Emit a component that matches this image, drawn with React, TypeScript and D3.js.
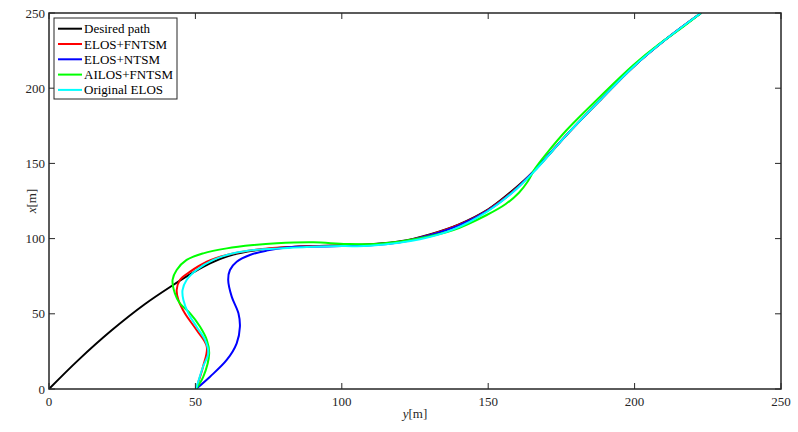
import React from "react";
import * as d3 from "d3";

const xTicks = [0, 50, 100, 150, 200, 250];
const yTicks = [0, 50, 100, 150, 200, 250];

const desiredH = [0, 10, 21.4, 32.8, 41.9, 49.3, 55, 61, 70, 79, 90, 100, 110, 120, 130, 140, 150, 158, 165.4, 176.8, 188.2, 199.6, 211, 222.7];
const desiredV = [0, 19.2, 39, 56.5, 68.5, 77.5, 83.5, 88.3, 92, 94, 95, 95.5, 96.3, 98.2, 102.8, 109.5, 119.5, 131.5, 144.5, 169, 192, 214.3, 233, 250];

const redH = [50.2, 52.6, 53.9, 50.4, 46.4, 44.2, 43.6, 44.7, 48.2, 53.9, 60.7, 69.8, 78.9, 90, 100, 110, 120, 130, 140, 150, 158.3, 165.4, 176.8, 188.2, 199.6, 211, 222.7];
const redV = [0, 14.8, 28.1, 39.2, 50.3, 59.2, 65.8, 72.5, 78, 84.6, 89.1, 92.4, 94.1, 95, 95.4, 96, 97.9, 102.5, 109.2, 119.2, 131.3, 144.5, 169, 192, 214.3, 233, 250];

const blueH = [50.2, 55, 60.7, 64.1, 65.2, 64.7, 62.4, 61.2, 61.8, 64.1, 68.6, 74.3, 81.2, 88, 100, 110, 120, 130, 140, 150, 158.4, 165.4, 176.8, 188.2, 199.6, 211, 222.7];
const blueV = [0, 8.2, 19.3, 30.4, 41.4, 50.3, 61.4, 72.5, 79.1, 84.6, 89.1, 92, 94.1, 94.6, 95, 95.6, 97.6, 102.2, 108.8, 118.8, 131, 144.5, 169, 192, 214.3, 233, 250];

const greenH = [50.2, 52.7, 54.7, 53.9, 51.6, 48.2, 44.7, 43, 42.2, 43.6, 47, 52.7, 60.7, 69.8, 77.8, 90.3, 101.7, 113, 126.7, 138.1, 149.5, 156, 160.5, 163.5, 166, 170, 176.8, 188.2, 199.6, 208.7, 215, 222.7];
const greenV = [0, 8.2, 23.7, 32.6, 41.4, 50.3, 56.9, 63.6, 72.5, 79.1, 85.8, 90.2, 93.5, 95.7, 96.9, 97.5, 96.4, 96.6, 100.2, 105.7, 115.7, 123, 130.5, 138, 146.5, 156.7, 172.2, 194.3, 215.4, 229.8, 238.5, 250];

const cyanH = [50.2, 52.6, 54.4, 53.3, 50.4, 47.6, 45.9, 45.6, 47, 50.4, 56.1, 63, 72.1, 78.9, 88, 100, 109.6, 126.7, 138.1, 149.5, 158.6, 165.4, 176.8, 188.2, 199.6, 211, 222.7];
const cyanV = [0, 14.8, 23.7, 32.6, 41.4, 50.3, 59.2, 65.8, 72.5, 79.1, 85.8, 90.2, 92.8, 93.5, 94.4, 95, 95.2, 99.5, 106.1, 117.8, 131.2, 144, 169, 192, 214.3, 233, 250];

const seriesNames = ["Desired path", "ELOS+FNTSM", "ELOS+NTSM", "AILOS+FNTSM", "Original ELOS"];
const seriesColors = ["#000000", "#ff0000", "#0000ff", "#00ff00", "#00ffff"];

export default function App() {
  const W = 798, H = 432;
  const L = 49, R = 781, T = 13, B = 389;
  const x = d3.scaleLinear().domain([0, 250]).range([L, R]);
  const y = d3.scaleLinear().domain([0, 250]).range([B, T]);
  const line = d3.line<[number, number]>().x(d => x(d[0])).y(d => y(d[1])).curve(d3.curveCatmullRom.alpha(0.5));
  const series = [
    [desiredH, desiredV],
    [redH, redV],
    [blueH, blueV],
    [greenH, greenV],
    [cyanH, cyanV],
  ].map(([hs, vs]) => hs.map((h, i) => [h, vs[i]] as [number, number]));
  const fontStyle = { fontFamily: "'Liberation Serif', 'Times New Roman', Times, serif" };
  const tick = 6;
  const axisColor = "#262626";
  const legX = 54, legY = 18, legW = 123, legH = 81;
  return (
    <svg width={W} height={H} style={{ position: "absolute", left: 0, top: 0, background: "#fff" }}>
      <defs>
        <clipPath id="plot">
          <rect x={L} y={T} width={R - L} height={B - T} />
        </clipPath>
      </defs>
      <rect x={0} y={0} width={W} height={H} fill="#fff" />
      <g clipPath="url(#plot)">
        {series.map((pts, i) => (
          <path key={i} d={line(pts) || ""} fill="none" stroke={seriesColors[i]} strokeWidth={2} strokeLinejoin="round" />
        ))}
      </g>
      {xTicks.map(t => (
        <g key={"x" + t}>
          <line x1={x(t)} x2={x(t)} y1={B} y2={B - tick} stroke={axisColor} strokeWidth={1} />
          <line x1={x(t)} x2={x(t)} y1={T} y2={T + tick} stroke={axisColor} strokeWidth={1} />
          <text x={x(t)} y={B + 17} fontSize={13} textAnchor="middle" fill="#262626" style={fontStyle}>{t}</text>
        </g>
      ))}
      {yTicks.map(t => (
        <g key={"y" + t}>
          <line x1={L} x2={L + tick} y1={y(t)} y2={y(t)} stroke={axisColor} strokeWidth={1} />
          <line x1={R} x2={R - tick} y1={y(t)} y2={y(t)} stroke={axisColor} strokeWidth={1} />
          <text x={L - 4} y={y(t) + 4.5} fontSize={13} textAnchor="end" fill="#262626" style={fontStyle}>{t}</text>
        </g>
      ))}
      <rect x={L} y={T} width={R - L} height={B - T} fill="none" stroke={axisColor} strokeWidth={1.5} />
      <text x={(L + R) / 2} y={418} fontSize={13} textAnchor="middle" fill="#262626" style={fontStyle}>
        <tspan fontStyle="italic">y</tspan>[m]
      </text>
      <text transform={`translate(36, ${(T + B) / 2}) rotate(-90)`} fontSize={13} textAnchor="middle" fill="#262626" style={fontStyle}>
        <tspan fontStyle="italic">x</tspan>[m]
      </text>
      <rect x={legX} y={legY} width={legW} height={legH} fill="#fff" stroke={axisColor} strokeWidth={1} />
      {seriesNames.map((n, i) => {
        const cy = legY + 10.7 + i * 15.3;
        return (
          <g key={n}>
            <line x1={legX + 4} x2={legX + 28} y1={cy} y2={cy} stroke={seriesColors[i]} strokeWidth={2} />
            <text x={legX + 30} y={cy + 4.5} fontSize={13} fill="#000" style={fontStyle}>{n}</text>
          </g>
        );
      })}
    </svg>
  );
}
